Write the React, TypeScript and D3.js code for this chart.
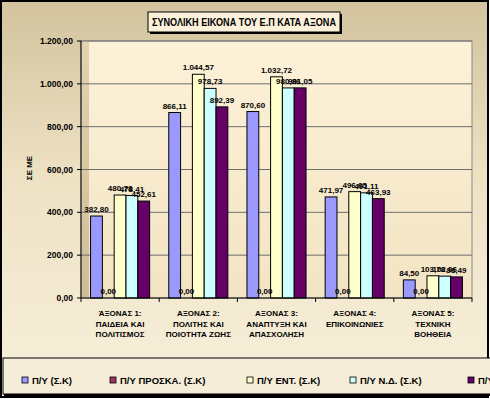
import React from 'react';
import * as d3 from 'd3';

// categories (x axis, three lines each)
const categories = [
  ['ΆΞΟΝΑΣ 1:', 'ΠΑΙΔΕΙΑ ΚΑΙ', 'ΠΟΛΙΤΙΣΜΟΣ'],
  ['ΑΞΟΝΑΣ 2:', 'ΠΟΛΙΤΗΣ ΚΑΙ', 'ΠΟΙΟΤΗΤΑ ΖΩΗΣ'],
  ['ΑΞΟΝΑΣ 3:', 'ΑΝΑΠΤΥΞΗ ΚΑΙ', 'ΑΠΑΣΧΟΛΗΣΗ'],
  ['ΑΞΟΝΑΣ 4:', 'ΕΠΙΚΟΙΝΩΝΙΕΣ'],
  ['ΑΞΟΝΑΣ 5:', 'ΤΕΧΝΙΚΗ', 'ΒΟΗΘΕΙΑ'],
];

const seriesNames = ['Π/Υ (Σ.Κ)', 'Π/Υ ΠΡΟΣΚΑ. (Σ.Κ)', 'Π/Υ ΕΝΤ. (Σ.Κ)', 'Π/Υ Ν.Δ. (Σ.Κ)', 'Π/Υ ΠΛΗΡ. (Σ.Κ)'];
const seriesColors = ['#9999FF', '#993366', '#FFFFCC', '#CCFFFF', '#660066'];

const pySK = [382.8, 866.11, 870.6, 471.97, 84.5];
const pyProska = [0, 0, 0, 0, 0];
const pyEnt = [480.78, 1044.57, 1032.72, 496.65, 103.78];
const pyND = [478.41, 978.73, 980.86, 491.11, 102.06];
const pyPlir = [452.61, 892.39, 981.05, 463.93, 98.49];
const seriesValues = [pySK, pyProska, pyEnt, pyND, pyPlir];

const yTicks = [0, 200, 400, 600, 800, 1000, 1200];

// legend layout (x of each marker)
const legendX = [22, 110, 247, 350, 468];

const grLocale = d3.formatLocale({ decimal: ',', thousands: '.', grouping: [3], currency: ['', '€'] });
const fmt = grLocale.format(',.2f');

const FONT = '"Liberation Sans", Arial, sans-serif';

export default function App() {
  const W = 490;
  const H = 399;
  const plot = { left: 81, right: 472, top: 41, bottom: 298 };

  const x0 = d3.scaleBand<number>()
    .domain(categories.map((_, i) => i))
    .range([plot.left, plot.right])
    .padding(0);

  const x1 = d3.scaleBand<number>()
    .domain(seriesNames.map((_, i) => i))
    .range([0, x0.bandwidth()])
    .paddingInner(0)
    .paddingOuter(0.81);

  const y = d3.scaleLinear().domain([0, 1200]).range([plot.bottom, plot.top]);

  return (
    <svg width={W} height={H} style={{ position: 'absolute', left: 0, top: 0 }} fontFamily={FONT}>
      <defs>
        <linearGradient id="bg" x1="0" y1="0" x2="0" y2="1">
          <stop offset="0" stopColor="#D3C39E" />
          <stop offset="0.45" stopColor="#EEE2C4" />
          <stop offset="1" stopColor="#F8F0DC" />
        </linearGradient>
        <linearGradient id="wall" x1="0" y1="0" x2="0" y2="1">
          <stop offset="0" stopColor="#E2D3AE" />
          <stop offset="1" stopColor="#CDBE98" />
        </linearGradient>
        <linearGradient id="floor" x1="0" y1="0" x2="0" y2="1">
          <stop offset="0" stopColor="#FDF1D8" />
          <stop offset="1" stopColor="#F2E4C3" />
        </linearGradient>
      </defs>

      {/* chart background */}
      <rect x={1} y={1} width={W - 3} height={H - 3} fill="url(#bg)" stroke="#000" strokeWidth={2} />

      {/* title */}
      <rect x={150} y={14} width={192} height={20} fill="#000" />
      <rect x={148} y={12} width={192} height={20} fill="#FBF1DA" stroke="#000" strokeWidth={1} />
      <text x={244} y={26} textAnchor="middle" fontSize={10} fontWeight="bold"
        textLength={184} lengthAdjust="spacingAndGlyphs">
        ΣΥΝΟΛΙΚΗ ΕΙΚΟΝΑ ΤΟΥ Ε.Π ΚΑΤΑ ΑΞΟΝΑ
      </text>

      {/* plot area */}
      <rect x={plot.left} y={plot.top} width={plot.right - plot.left} height={plot.bottom - plot.top}
        fill="url(#floor)" stroke="#8A8A8A" strokeWidth={1} />
      <rect x={plot.left + 1} y={plot.top} width={7} height={plot.bottom - plot.top} fill="url(#wall)" />

      {/* gridlines */}
      {yTicks.slice(1).map(t => (
        <line key={t} x1={plot.left} x2={plot.right} y1={y(t)} y2={y(t)} stroke="#6E6E6E" strokeWidth={1} />
      ))}

      {/* bars */}
      {categories.map((_, ci) => (
        <g key={ci} transform={`translate(${x0(ci)},0)`}>
          {seriesValues.map((vals, si) => {
            const v = vals[ci];
            const bx = x1(si) as number;
            const h = plot.bottom - y(v);
            return h > 0 ? (
              <rect key={si} x={bx} y={y(v)} width={x1.bandwidth()} height={h}
                fill={seriesColors[si]} stroke="#000" strokeWidth={1} />
            ) : null;
          })}
          {seriesValues.map((vals, si) => {
            const v = vals[ci];
            const cx = (x1(si) as number) + x1.bandwidth() / 2;
            return (
              <text key={'l' + si} x={cx} y={y(v) - 4} textAnchor="middle" fontSize={8} fontWeight="bold" fill="#000">
                {fmt(v)}
              </text>
            );
          })}
        </g>
      ))}

      {/* y axis */}
      <line x1={plot.left} x2={plot.left} y1={plot.top} y2={plot.bottom} stroke="#000" />
      {yTicks.map(t => (
        <g key={t}>
          <line x1={plot.left - 4} x2={plot.left} y1={y(t)} y2={y(t)} stroke="#000" />
          <text x={73} y={y(t) + 3} textAnchor="end" fontSize={8.5} fontWeight="bold">{fmt(t)}</text>
        </g>
      ))}
      <text transform="translate(32,168) rotate(-90)" textAnchor="middle" fontSize={8} fontWeight="bold">ΣΕ ΜΕ</text>

      {/* x axis */}
      <line x1={plot.left} x2={plot.right} y1={plot.bottom} y2={plot.bottom} stroke="#000" />
      {categories.map((_, i) => (
        <line key={i} x1={(x0(i) as number) + x0.bandwidth()} x2={(x0(i) as number) + x0.bandwidth()}
          y1={plot.bottom} y2={plot.bottom + 4} stroke="#000" />
      ))}
      <line x1={plot.left} x2={plot.left} y1={plot.bottom} y2={plot.bottom + 4} stroke="#000" />
      {categories.map((lines, i) => (
        <text key={i} x={(x0(i) as number) + x0.bandwidth() / 2} y={316} textAnchor="middle" fontSize={8} fontWeight="bold">
          {lines.map((ln, k) => (
            <tspan key={k} x={(x0(i) as number) + x0.bandwidth() / 2} dy={k === 0 ? 0 : 10.5}>{ln}</tspan>
          ))}
        </text>
      ))}

      {/* legend */}
      <rect x={4} y={360} width={W} height={36} fill="#000" />
      <rect x={3} y={358} width={W} height={36} fill="#F6EDD8" stroke="#000" strokeWidth={1} />
      {seriesNames.map((name, i) => (
        <g key={i} transform={`translate(${legendX[i]},377)`}>
          <rect x={0} y={0} width={6} height={6} fill={seriesColors[i]} stroke="#000" strokeWidth={0.8} />
          <text x={10} y={6.5} fontSize={9.5} fontWeight="bold">{name}</text>
        </g>
      ))}
    </svg>
  );
}
